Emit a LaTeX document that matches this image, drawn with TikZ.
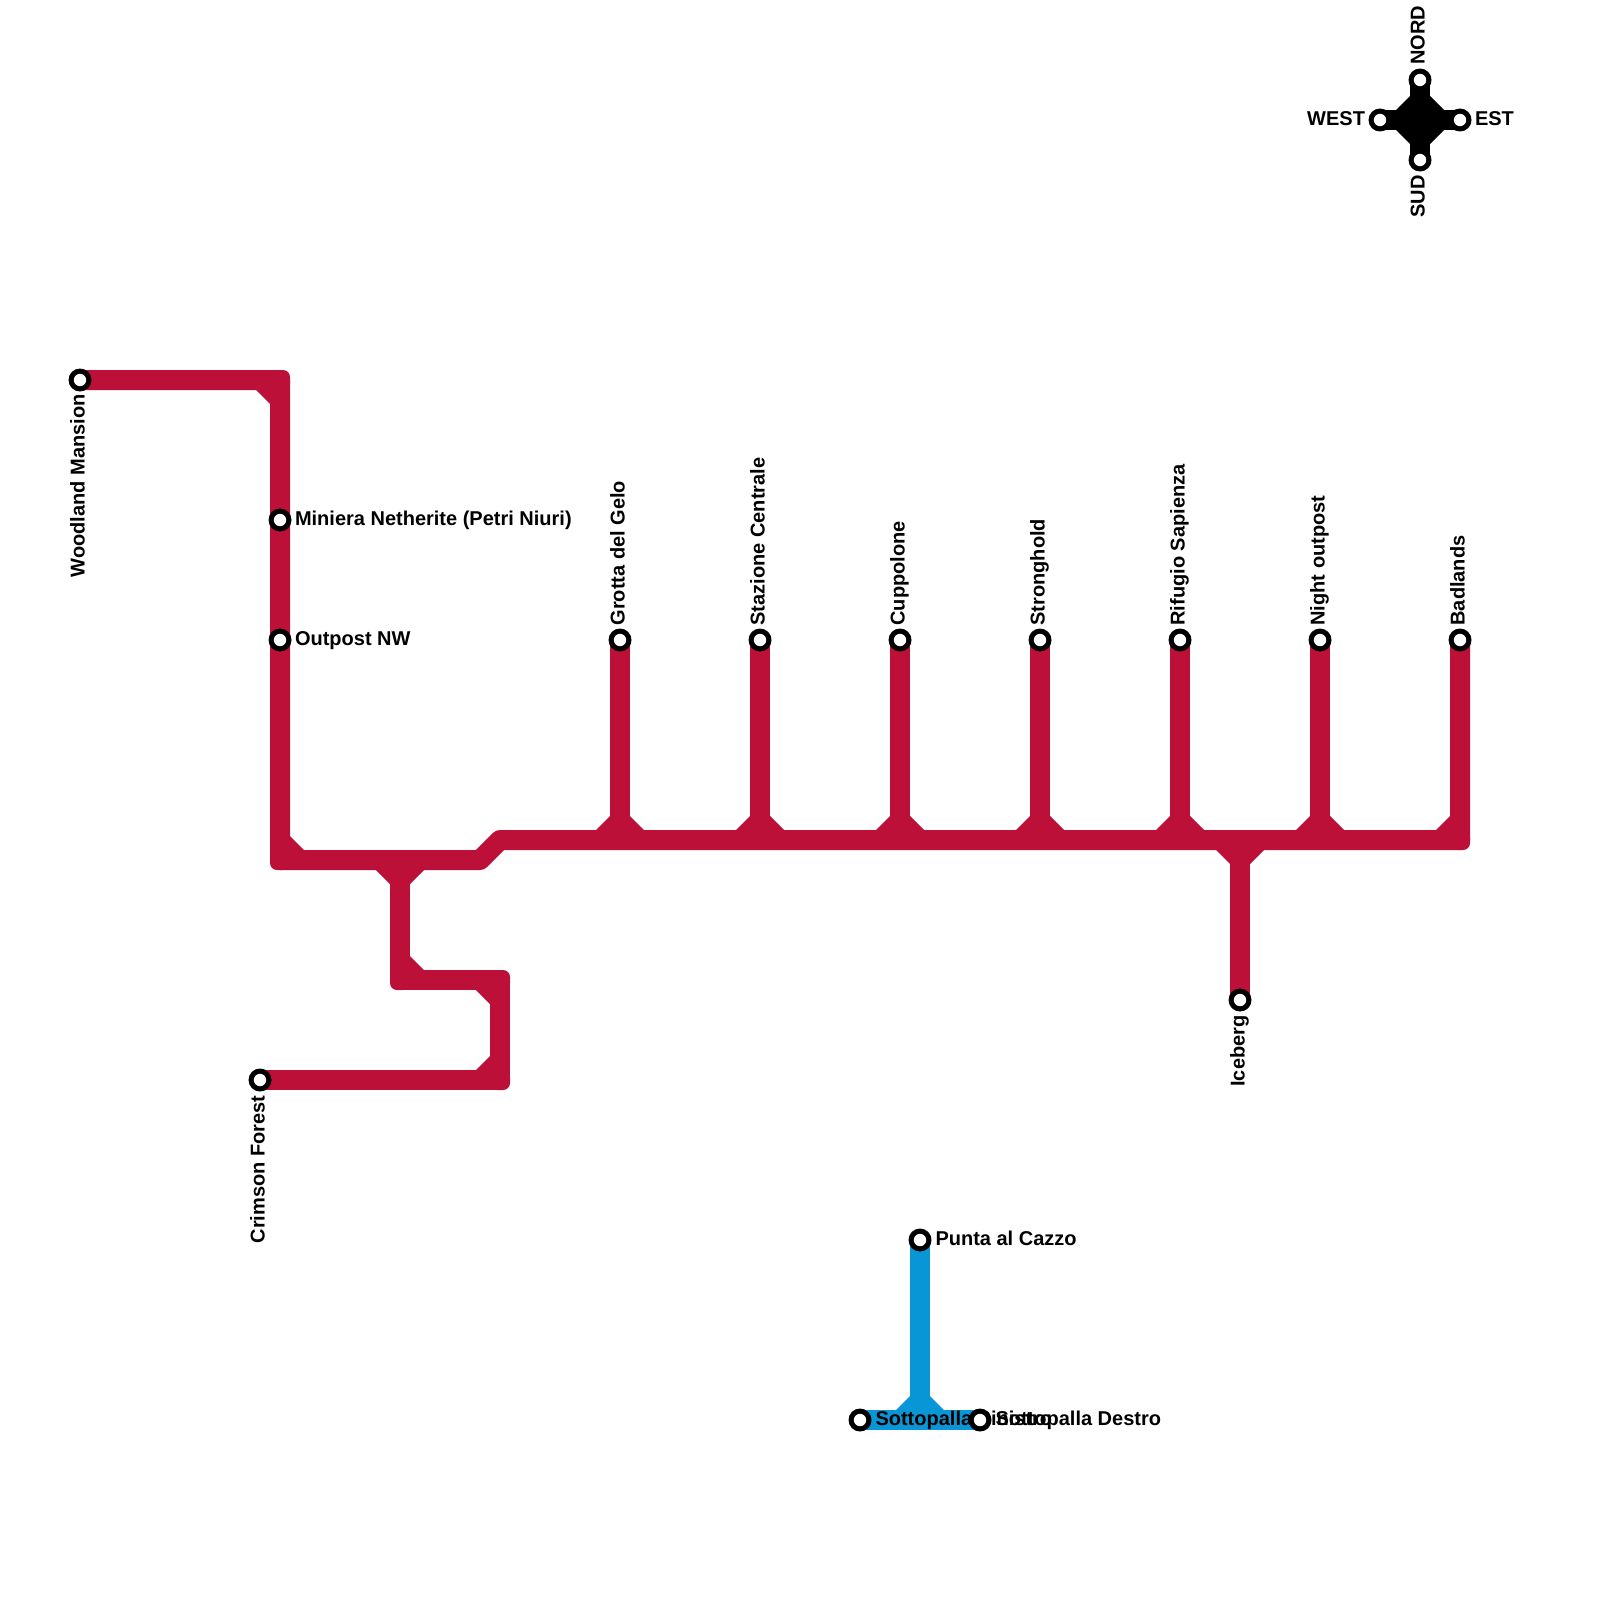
\documentclass[tikz,border=0pt]{standalone}
\usepackage{fontspec}
\setmainfont{Liberation Sans}
\pgfdeclarelayer{rails}
\pgfsetlayers{rails,main}
\definecolor{railred}{HTML}{BD1038}
\definecolor{railblue}{HTML}{0896D7}
\tikzset{
  station/.style={circle,fill=black,draw=none,minimum size=23pt,inner sep=0pt,outer sep=0pt,
    path picture={\fill[white] (path picture bounding box.center) circle (6.2pt);}},
  txt/.style={inner sep=0pt,outer sep=0pt,font=\fontsize{20}{24}\selectfont\bfseries,text=black},
  lblright/.style={txt,anchor=base west},
  lblleft/.style={txt,anchor=base east},
  lblup/.style={txt,anchor=base west,rotate=90},
  lbldown/.style={txt,anchor=base east,rotate=90},
  rail/.style={line width=20pt,line join=round,line cap=butt},
}
% fillet at coordinate #1, quadrant (#2,#3), colour #4
\newcommand{\filletat}[4]{\fill[#4] (#1) ++(#2*10,#3*10) -- ++(#2*14,0) -- ++(-#2*14,#3*14) -- cycle;}
% rounded outer corner patch
\newcommand{\cornerat}[2]{\fill[#2,rounded corners=7pt] (#1) ++(-10,-10) rectangle ++(20,20);}
\begin{document}
\begin{tikzpicture}[x=1pt,y=-1pt]
\useasboundingbox (0,0) rectangle (1600,1600);
% labels
\node[lbldown] (lwm) at (84.5,394.5) {Woodland Mansion};
\node[lblright] (lmn) at (295,525) {Miniera Netherite (Petri Niuri)};
\node[lblright] (lop) at (295,645) {Outpost NW};
\node[lblup] (lgg) at (624.5,625.5) {Grotta del Gelo};
\node[lblup] (lsc) at (764.5,625.5) {Stazione Centrale};
\node[lblup] (lcu) at (904.5,625.5) {Cuppolone};
\node[lblup] (lst) at (1044.5,625.5) {Stronghold};
\node[lblup] (lrs) at (1184.5,625.5) {Rifugio Sapienza};
\node[lblup] (lno) at (1324.5,625.5) {Night outpost};
\node[lblup] (lba) at (1464.5,625.5) {Badlands};
\node[lbldown] (lic) at (1244.5,1015.5) {Iceberg};
\node[lbldown] (lcf) at (264.5,1095.5) {Crimson Forest};
\node[lblright] (lpc) at (935.5,1245) {Punta al Cazzo};
\node[lblright] (lss) at (875.5,1425) {Sottopalla Sinistro};
\node[lblright] (lsd) at (995.5,1425) {Sottopalla Destro};
\node[lblup] (lnn) at (1424.5,65) {NORD};
\node[lbldown] (lss2) at (1424.5,175.5) {SUD};
\node[lblleft] (lww) at (1365,125) {WEST};
\node[lblright] (lee) at (1475,125) {EST};
% stations
\node[station] (wm) at (80,380) {};
\node[station] (mn) at (280,520) {};
\node[station] (op) at (280,640) {};
\node[station] (gg) at (620,640) {};
\node[station] (sc) at (760,640) {};
\node[station] (cu) at (900,640) {};
\node[station] (st) at (1040,640) {};
\node[station] (rs) at (1180,640) {};
\node[station] (no) at (1320,640) {};
\node[station] (ba) at (1460,640) {};
\node[station] (ic) at (1240,1000) {};
\node[station] (cf) at (260,1080) {};
\node[station] (pc) at (920,1240) {};
\node[station] (ss) at (860,1420) {};
\node[station] (sd) at (980,1420) {};
\node[station] (nn) at (1420,80) {};
\node[station] (so) at (1420,160) {};
\node[station] (ww) at (1380,120) {};
\node[station] (ee) at (1460,120) {};
% junctions and bends
\coordinate (c1) at (280,380);
\coordinate (c2) at (280,860);
\coordinate (b1) at (480,860);
\coordinate (b2) at (500,840);
\coordinate (c3) at (1460,840);
\coordinate (j0) at (400,860);
\coordinate (c4) at (400,980);
\coordinate (c5) at (500,980);
\coordinate (c6) at (500,1080);
\coordinate (j1) at (620,840);
\coordinate (j2) at (760,840);
\coordinate (j3) at (900,840);
\coordinate (j4) at (1040,840);
\coordinate (j5) at (1180,840);
\coordinate (j6) at (1240,840);
\coordinate (j7) at (1320,840);
\coordinate (jb) at (920,1420);
\coordinate (cc) at (1420,120);
\begin{pgfonlayer}{rails}
% red main line
\draw[rail,railred] (wm.center) -- (c1) -- (mn.center) -- (op.center) -- (c2) -- (j0) -- (b1) -- (b2) -- (j1) -- (j2) -- (j3) -- (j4) -- (j5) -- (j6) -- (j7) -- (c3) -- (ba.center);
\draw[rail,railred] (j0) -- (c4) -- (c5) -- (c6) -- (cf.center);
\draw[rail,railred] (j1) -- (gg.center);
\draw[rail,railred] (j2) -- (sc.center);
\draw[rail,railred] (j3) -- (cu.center);
\draw[rail,railred] (j4) -- (st.center);
\draw[rail,railred] (j5) -- (rs.center);
\draw[rail,railred] (j7) -- (no.center);
\draw[rail,railred] (j6) -- (ic.center);
\cornerat{c1}{railred}\filletat{c1}{-1}{1}{railred}
\cornerat{c2}{railred}\filletat{c2}{1}{-1}{railred}
\cornerat{c3}{railred}\filletat{c3}{-1}{-1}{railred}
\cornerat{c4}{railred}\filletat{c4}{1}{-1}{railred}
\cornerat{c5}{railred}\filletat{c5}{-1}{1}{railred}
\cornerat{c6}{railred}\filletat{c6}{-1}{-1}{railred}
\filletat{j0}{-1}{1}{railred}\filletat{j0}{1}{1}{railred}
\filletat{j6}{-1}{1}{railred}\filletat{j6}{1}{1}{railred}
\foreach \j in {j1,j2,j3,j4,j5,j7}{\filletat{\j}{-1}{-1}{railred}\filletat{\j}{1}{-1}{railred}}
% blue line
\draw[rail,railblue] (ss.center) -- (jb) -- (sd.center);
\draw[rail,railblue] (jb) -- (pc.center);
\filletat{jb}{-1}{-1}{railblue}\filletat{jb}{1}{-1}{railblue}
% compass
\draw[rail,black] (nn.center) -- (so.center);
\draw[rail,black] (ww.center) -- (ee.center);
\filletat{cc}{-1}{-1}{black}\filletat{cc}{1}{-1}{black}\filletat{cc}{-1}{1}{black}\filletat{cc}{1}{1}{black}
\end{pgfonlayer}
\end{tikzpicture}
\end{document}
